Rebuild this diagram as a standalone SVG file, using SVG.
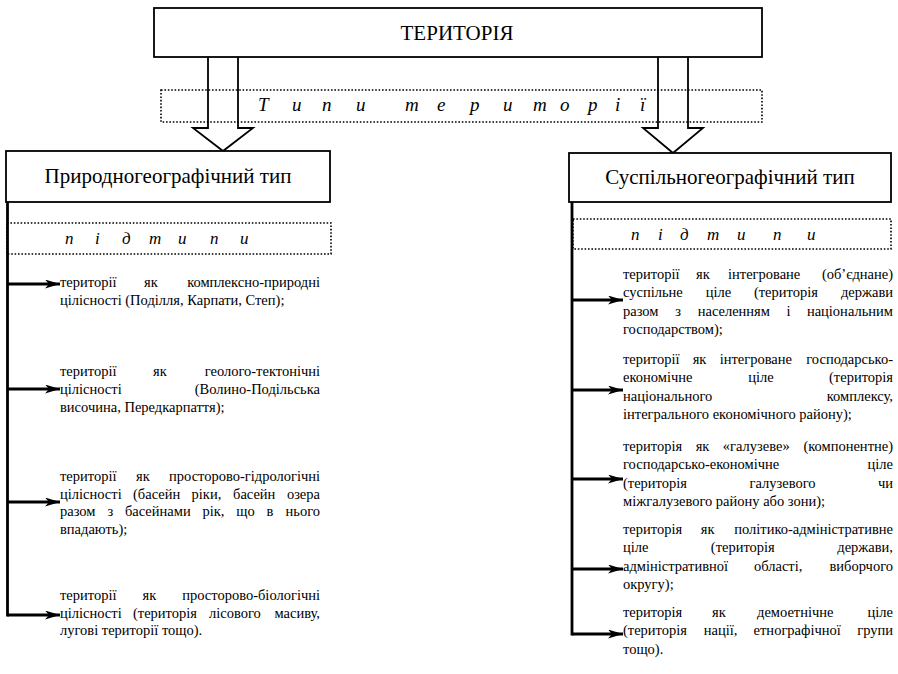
<svg xmlns="http://www.w3.org/2000/svg" width="898" height="674" viewBox="0 0 898 674">
<style>
text{font-family:"Liberation Serif","Times New Roman",serif;fill:#000}
.b{font-size:14.5px}
.e{text-anchor:end}
.h{font-size:21px;text-anchor:middle}
.it{font-style:italic}
.box{fill:#fff;stroke:#000;stroke-width:1.8}
.dot{fill:none;stroke:#000;stroke-width:1.6;stroke-dasharray:1.6 1.8}
.blk{fill:none;stroke:#000;stroke-width:1.8;stroke-linejoin:miter}
.ln{fill:none;stroke:#000;stroke-width:2.8}
</style>
<defs>
<marker id="ah" markerUnits="userSpaceOnUse" markerWidth="15" markerHeight="9" refX="15" refY="4.5" orient="auto">
<path d="M0,0 L15,4.5 L0,9 L4,4.5 z" fill="#000"/>
</marker>
</defs>

<g id="band-types">
<rect class="dot" x="161" y="90" width="601" height="32"/>
<text class="it" font-size="19" y="111" x="258 292 322 356 405 437 470 503 533 560 588 615 640">Типитериторії</text>
</g>

<g id="connectors">
<path class="blk" d="M208,57 V128 H193 L223,151 L253,128 H238 V57"/>
<path class="blk" d="M658,57 V128 H643 L673,153 L703,128 H688 V57"/>
<path class="ln" d="M7.5,202 V616.4"/>
<path class="ln" marker-end="url(#ah)" d="M7.5,284 H60"/>
<path class="ln" marker-end="url(#ah)" d="M7.5,389 H60"/>
<path class="ln" marker-end="url(#ah)" d="M7.5,502 H60"/>
<path class="ln" marker-end="url(#ah)" d="M7.5,615 H60"/>
<path class="ln" d="M572,202 V635.4"/>
<path class="ln" marker-end="url(#ah)" d="M572,300 H623"/>
<path class="ln" marker-end="url(#ah)" d="M572,390 H623"/>
<path class="ln" marker-end="url(#ah)" d="M572,479 H623"/>
<path class="ln" marker-end="url(#ah)" d="M572,569 H623"/>
<path class="ln" marker-end="url(#ah)" d="M572,634 H623"/>
</g>

<g id="territory">
<rect class="box" x="154" y="8" width="608" height="49"/>
<text class="h" x="457" y="40" font-size="20">ТЕРИТОРІЯ</text>
</g>

<g id="natural-type">
<rect class="box" x="6" y="151" width="324" height="51"/>
<text class="h" x="168" y="183">Природногеографічний тип</text>
</g>

<g id="social-type">
<rect class="box" x="569" y="153" width="322" height="49"/>
<text class="h" x="730" y="184">Суспільногеографічний тип</text>
</g>

<g id="natural-subtypes">
<rect class="dot" x="7" y="223" width="324" height="31"/>
<text class="it" font-size="17" y="244" x="65 95 122 149 178 210 240">підтипи</text>
</g>

<g id="social-subtypes">
<rect class="dot" x="573" y="219" width="318" height="30"/>
<text class="it" font-size="17" y="240" x="631 658 680 707 737 773 807">підтипи</text>
</g>

<g id="n1">
<text class="b" x="60" y="287">території</text><text class="b" x="144" y="287">як</text><text class="b e" x="320" y="287">комплексно-природні</text>
<text class="b" x="60" y="305">цілісності (Поділля, Карпати, Степ);</text>
</g>

<g id="n2">
<text class="b" x="60" y="376">території</text><text class="b" x="153" y="376">як</text><text class="b e" x="320" y="376">геолого-тектонічні</text>
<text class="b" x="60" y="394">цілісності</text><text class="b e" x="320" y="394">(Волино-Подільська</text>
<text class="b" x="60" y="412">височина, Передкарпаття);</text>
</g>

<g id="n3">
<text class="b" x="60" y="481">території</text><text class="b" x="136" y="481">як</text><text class="b e" x="320" y="481">просторово-гідрологічні</text>
<text class="b" x="60" y="498.5">цілісності</text><text class="b" x="133" y="498.5">(басейн</text><text class="b" x="191.6" y="498.5">ріки,</text><text class="b" x="233" y="498.5">басейн</text><text class="b e" x="320" y="498.5">озера</text>
<text class="b" x="60" y="516">разом</text><text class="b" x="107.4" y="516">з</text><text class="b" x="124.9" y="516">басейнами</text><text class="b" x="202.5" y="516">рік,</text><text class="b" x="236.3" y="516">що</text><text class="b" x="266.5" y="516">в</text><text class="b e" x="320" y="516">нього</text>
<text class="b" x="60" y="533.5">впадають);</text>
</g>

<g id="n4">
<text class="b" x="60" y="600">території</text><text class="b" x="142.5" y="600">як</text><text class="b e" x="320" y="600">просторово-біологічні</text>
<text class="b" x="60" y="617.5">цілісності</text><text class="b" x="133" y="617.5">(територія</text><text class="b" x="209" y="617.5">лісового</text><text class="b e" x="320" y="617.5">масиву,</text>
<text class="b" x="60" y="635">лугові території тощо).</text>
</g>

<g id="s1">
<text class="b" x="623" y="279">території</text><text class="b" x="696" y="279">як</text><text class="b" x="728" y="279">інтегроване</text><text class="b e" x="893" y="279">(об’єднане)</text>
<text class="b" x="623" y="297.4">суспільне</text><text class="b" x="705.7" y="297.4">ціле</text><text class="b" x="753.9" y="297.4">(територія</text><text class="b e" x="893" y="297.4">держави</text>
<text class="b" x="623" y="315.8">разом</text><text class="b" x="675.3" y="315.8">з</text><text class="b" x="697.7" y="315.8">населенням</text><text class="b" x="786.6" y="315.8">і</text><text class="b e" x="893" y="315.8">національним</text>
<text class="b" x="623" y="334.2">господарством);</text>
</g>

<g id="s2">
<text class="b" x="623" y="364">території</text><text class="b" x="692.7" y="364">як</text><text class="b" x="719.7" y="364">інтегроване</text><text class="b e" x="893" y="364">господарсько-</text>
<text class="b" x="623" y="382.4">економічне</text><text class="b" x="748.2" y="382.4">ціле</text><text class="b e" x="893" y="382.4">(територія</text>
<text class="b" x="623" y="400.8">національного</text><text class="b e" x="893" y="400.8">комплексу,</text>
<text class="b" x="623" y="419.2">інтегрального економічного району);</text>
</g>

<g id="s3">
<text class="b" x="623" y="451">територія</text><text class="b" x="695.7" y="451">як</text><text class="b" x="722.8" y="451">«галузеве»</text><text class="b e" x="893" y="451">(компонентне)</text>
<text class="b" x="623" y="469.4">господарсько-економічне</text><text class="b e" x="893" y="469.4">ціле</text>
<text class="b" x="623" y="487.8">(територія</text><text class="b" x="749.5" y="487.8">галузевого</text><text class="b e" x="893" y="487.8">чи</text>
<text class="b" x="623" y="506.2">міжгалузевого району або зони);</text>
</g>

<g id="s4">
<text class="b" x="623" y="534">територія</text><text class="b" x="700.8" y="534">як</text><text class="b e" x="893" y="534">політико-адміністративне</text>
<text class="b" x="623" y="552.4">ціле</text><text class="b" x="710.8" y="552.4">(територія</text><text class="b e" x="893" y="552.4">держави,</text>
<text class="b" x="623" y="570.8">адміністративної</text><text class="b" x="754" y="570.8">області,</text><text class="b e" x="893" y="570.8">виборчого</text>
<text class="b" x="623" y="589.2">округу);</text>
</g>

<g id="s5">
<text class="b" x="623" y="617">територія</text><text class="b" x="712" y="617">як</text><text class="b" x="757" y="617">демоетнічне</text><text class="b e" x="893" y="617">ціле</text>
<text class="b" x="623" y="635.4">(територія</text><text class="b" x="703.7" y="635.4">нації,</text><text class="b" x="753.6" y="635.4">етнографічної</text><text class="b e" x="893" y="635.4">групи</text>
<text class="b" x="623" y="653.8">тощо).</text>
</g>
</svg>
